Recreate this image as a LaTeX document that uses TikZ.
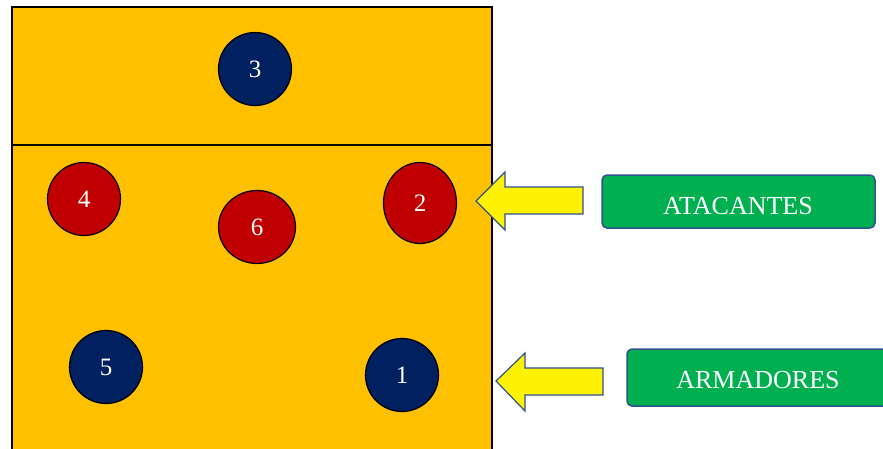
\documentclass[tikz,border=0pt]{standalone}
\usepackage{fontspec}
\setmainfont{Liberation Serif}
\definecolor{court}{HTML}{FFC000}
\definecolor{navy}{HTML}{002060}
\definecolor{darkred}{HTML}{C00000}
\definecolor{tagGreen}{HTML}{00B050}
\definecolor{edgeBlue}{HTML}{2F528F}
\tikzset{
  player/.style={ellipse, draw=black, line width=1.2pt, inner sep=0pt,
    text=white, font=\fontsize{25}{25}\selectfont},
  setter/.style={player, fill=navy},
  hitter/.style={player, fill=darkred},
  pointer/.style={draw=edgeBlue, line width=1.2pt, fill=yellow, line join=miter},
  tag/.style={draw=edgeBlue, line width=1.5pt, fill=tagGreen, rounded corners=5pt},
  tagtext/.style={text=white, anchor=base, font=\fontsize{26}{26}\selectfont},
}
\usetikzlibrary{shapes.geometric}
\begin{document}
\begin{tikzpicture}[x=1pt, y=-1pt]
        \useasboundingbox (0,0) rectangle (883,448);
        \clip (0,0) rectangle (883,448);
        % court
        \draw[fill=court, line width=1.5pt] (12,7) rectangle (492,470);
        \draw[line width=1.5pt] (12,145) -- (492,145);

        % players
        \node[setter, minimum width=73pt, minimum height=73pt] (p3) at (255,69) {3};
        \node[hitter, minimum width=73pt, minimum height=73pt] (p4) at (84,199) {4};
        \node[hitter, minimum width=77pt, minimum height=73pt] (p6) at (257,227) {6};
        \node[hitter, minimum width=73pt, minimum height=81pt] (p2) at (420,203) {2};
        \node[setter, minimum width=73pt, minimum height=73pt] (p5) at (106,367) {5};
        \node[setter, minimum width=73pt, minimum height=73pt] (p1) at (402,375) {1};

        % arrows
        \draw[pointer] (476,201) -- (505,172) -- (505,187) -- (583,187)
          -- (583,214) -- (505,214) -- (505,230) -- cycle;
        \draw[pointer] (496,381) -- (525,353) -- (525,368) -- (603,368)
          -- (603,395) -- (525,395) -- (525,411) -- cycle;

        % labels
        \draw[tag] (602,175) rectangle (875,228);
        \node[tagtext] (atk) at (738,214) {ATACANTES};
        \draw[tag] (627,349) rectangle (889,406);
        \node[tagtext] (set) at (758,388) {ARMADORES};
\end{tikzpicture}
\end{document}
